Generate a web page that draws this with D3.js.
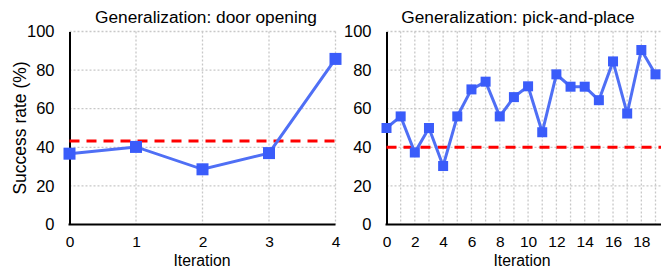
<!DOCTYPE html>
<html>
<head>
<meta charset="utf-8">
<script src="https://cdn.jsdelivr.net/npm/d3@7"></script>
<style>
  body { margin: 0; background: #fff; }
  svg { display: block; font-family: "Liberation Sans", Arial, sans-serif; }
</style>
</head>
<body>
<svg width="661" height="268"></svg>
<script>
// Data
var doorIter = [0, 1, 2, 3, 4];
var doorRate = [36.7, 40.2, 28.6, 37.0, 85.8];
var doorBaseline = 43.3;

var pickIter = d3.range(0, 20);
var pickRate = [50, 56, 37.3, 50, 30.3, 56, 70, 74, 56, 66, 71.6, 47.8, 77.8, 71.4, 71.4, 64.4, 84.5, 57.5, 90.4, 77.8];
var pickBaseline = 40;

var yTicks = [0, 20, 40, 60, 80, 100];
var doorXTicks = [0, 1, 2, 3, 4];
var pickXTicks = [0, 2, 4, 6, 8, 10, 12, 14, 16, 18];

var svg = d3.select("svg");

var lineColor = "#4f6ff5",
	markerColor = "#3a5cfa",
	gridColor = "#c8c8c8";

function drawPanel(opt) {
	var g = svg.append("g");
	var x = d3.scaleLinear().domain(opt.xDomain).range([opt.left, opt.right]);
	var y = d3.scaleLinear().domain([0, 100]).range([224.5, 31.5]);

	// Gridlines (dotted)
	g.append("g").selectAll("line")
		.data(yTicks.filter(function(d) { return d > 0; }))
		.enter().append("line")
		.attr("x1", opt.left).attr("x2", opt.gridRight)
		.attr("y1", function(d) { return y(d); })
		.attr("y2", function(d) { return y(d); })
		.attr("stroke", gridColor).attr("stroke-width", 1.3)
		.attr("stroke-dasharray", "2,2");
	g.append("g").selectAll("line")
		.data(opt.xGrid.filter(function(d) { return d > 0; }))
		.enter().append("line")
		.attr("x1", function(d) { return x(d); })
		.attr("x2", function(d) { return x(d); })
		.attr("y1", y(100)).attr("y2", y(0))
		.attr("stroke", gridColor).attr("stroke-width", 1.3)
		.attr("stroke-dasharray", "2,2");

	// Axes
	var yAxis = g.append("g")
		.attr("transform", "translate(" + opt.left + ",0)")
		.call(d3.axisLeft(y).tickValues(yTicks).tickSize(0).tickPadding(15));
	yAxis.select(".domain").attr("stroke", "#000").attr("stroke-width", 2);
	yAxis.selectAll("text").attr("font-size", 16.5).attr("fill", "#000")
		.attr("font-family", "Liberation Sans, Arial, sans-serif");

	var xAxis = g.append("g")
		.attr("transform", "translate(0," + y(0) + ")")
		.call(d3.axisBottom(x).tickValues(opt.xTicks).tickFormat(d3.format("d"))
			.tickSize(0).tickPadding(11));
	xAxis.select(".domain").attr("stroke", "#000").attr("stroke-width", 2)
		.attr("d", "M" + (opt.left - 1) + ",0H" + opt.gridRight);
	xAxis.selectAll("text").attr("font-size", 15.5).attr("fill", "#000")
		.attr("font-family", "Liberation Sans, Arial, sans-serif");

	// Baseline (red dashed)
	g.append("line")
		.attr("x1", opt.left).attr("x2", opt.gridRight)
		.attr("y1", y(opt.baseline)).attr("y2", y(opt.baseline))
		.attr("stroke", "#ff0000").attr("stroke-width", 3)
		.attr("stroke-dasharray", "10,7");

	// Series line
	var line = d3.line()
		.x(function(d, i) { return x(opt.xs[i]); })
		.y(function(d) { return y(d); });
	g.append("path")
		.datum(opt.ys)
		.attr("fill", "none")
		.attr("stroke", lineColor)
		.attr("stroke-width", 3)
		.attr("d", line);

	// Square markers
	var s = opt.marker;
	g.selectAll("rect.mk")
		.data(opt.ys)
		.enter().append("rect")
		.attr("class", "mk")
		.attr("x", function(d, i) { return x(opt.xs[i]) - s / 2; })
		.attr("y", function(d) { return y(d) - s / 2; })
		.attr("width", s).attr("height", s)
		.attr("fill", markerColor);

	// Title
	g.append("text")
		.attr("x", opt.titleX).attr("y", 23)
		.attr("text-anchor", "middle")
		.attr("font-size", 17.3)
		.text(opt.title);

	// X label
	g.append("text")
		.attr("x", opt.labelX).attr("y", 266)
		.attr("text-anchor", "middle")
		.attr("font-size", 15.8)
		.text("Iteration");
}

drawPanel({
	xs: doorIter, ys: doorRate, baseline: doorBaseline,
	xDomain: [0, 4], left: 69.5, right: 335.5, gridRight: 335.5,
	xGrid: doorIter, xTicks: doorXTicks, marker: 12,
	title: "Generalization: door opening", titleX: 206, labelX: 202
});

drawPanel({
	xs: pickIter, ys: pickRate, baseline: pickBaseline,
	xDomain: [0, 19], left: 386.5, right: 655.5, gridRight: 661,
	xGrid: pickIter, xTicks: pickXTicks, marker: 10,
	title: "Generalization: pick-and-place", titleX: 518, labelX: 522
});

// Y axis label
svg.append("text")
	.attr("transform", "translate(26,128) rotate(-90)")
	.attr("text-anchor", "middle")
	.attr("font-size", 17.5)
	.text("Success rate (%)");
</script>
</body>
</html>
